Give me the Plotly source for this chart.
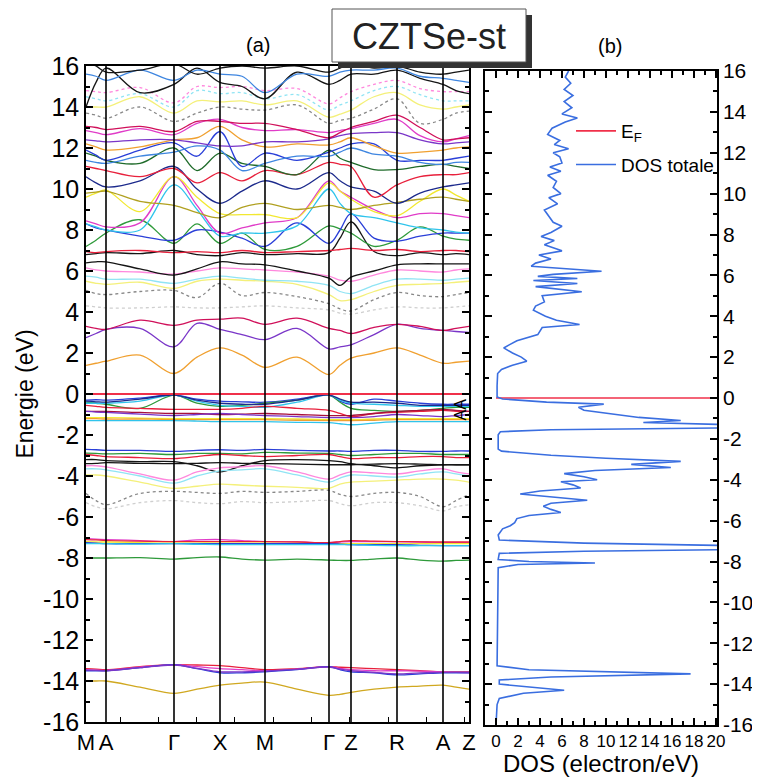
import plotly.graph_objects as go

# ---------------- data ----------------
# k-path sample positions (path length units) and high-symmetry points
K = [0, 10, 20, 54, 88, 111, 134, 156, 179, 211, 243, 254, 265, 288, 311, 334, 357, 370, 383]
K_NODES = [0, 20, 88, 134, 179, 243, 265, 311, 357, 383]
K_LABELS = ["M", "A", "Γ", "X", "M", "Γ", "Z", "R", "A", "Z"]
E_TICKS = [-16, -14, -12, -10, -8, -6, -4, -2, 0, 2, 4, 6, 8, 10, 12, 14, 16]
E_TICK_TEXT = ["-16", "-14", "-12", "-10", "-8", "-6", "-4", "-2", "0", "2", "4", "6", "8", "10", "12", "14", "16"]

# deep bands
band_s1 = [-14.0, -14.0, -14.0, -14.3, -14.6, -14.4, -14.2, -14.1, -14.05, -14.4, -14.7, -14.65, -14.55, -14.4, -14.3, -14.25, -14.2, -14.3, -14.4]
band_s2 = [-13.4, -13.42, -13.45, -13.3, -13.2, -13.22, -13.25, -13.35, -13.45, -13.4, -13.3, -13.33, -13.35, -13.4, -13.45, -13.5, -13.55, -13.55, -13.55]
band_s3 = [-13.45, -13.47, -13.48, -13.33, -13.2, -13.3, -13.4, -13.45, -13.5, -13.42, -13.3, -13.38, -13.45, -13.5, -13.5, -13.52, -13.55, -13.58, -13.6]
band_s4 = [-13.5, -13.5, -13.5, -13.35, -13.2, -13.4, -13.6, -13.6, -13.55, -13.45, -13.3, -13.45, -13.55, -13.6, -13.7, -13.65, -13.6, -13.6, -13.6]
band_s5 = [-13.47, -13.48, -13.5, -13.35, -13.22, -13.38, -13.55, -13.55, -13.52, -13.43, -13.32, -13.42, -13.5, -13.58, -13.65, -13.6, -13.58, -13.57, -13.57]
band_d1 = [-8.0, -8.0, -8.0, -7.98, -8.05, -7.98, -7.95, -8.05, -8.1, -8.05, -8.1, -8.12, -8.12, -8.05, -8.0, -8.1, -8.15, -8.12, -8.1]
band_d2 = [-7.05, -7.08, -7.1, -7.15, -7.2, -7.12, -7.1, -7.15, -7.2, -7.22, -7.25, -7.22, -7.2, -7.2, -7.2, -7.22, -7.25, -7.25, -7.25]
band_d3 = [-7.1, -7.12, -7.15, -7.18, -7.2, -7.2, -7.2, -7.2, -7.2, -7.22, -7.25, -7.2, -7.15, -7.18, -7.2, -7.21, -7.22, -7.22, -7.22]
band_d4 = [-7.2, -7.22, -7.22, -7.25, -7.28, -7.27, -7.27, -7.28, -7.28, -7.29, -7.3, -7.3, -7.3, -7.3, -7.3, -7.3, -7.3, -7.3, -7.3]
band_d5 = [-7.25, -7.27, -7.3, -7.3, -7.3, -7.3, -7.3, -7.3, -7.3, -7.3, -7.3, -7.32, -7.35, -7.35, -7.35, -7.38, -7.4, -7.4, -7.4]
band_d6 = [-7.3, -7.3, -7.3, -7.32, -7.3, -7.33, -7.35, -7.35, -7.35, -7.35, -7.35, -7.35, -7.35, -7.38, -7.4, -7.4, -7.4, -7.4, -7.4]

# valence bands (-6 .. -2.5)
band_v1 = [-2.7, -2.72, -2.75, -2.75, -2.8, -2.75, -2.72, -2.75, -2.7, -2.75, -2.78, -2.78, -2.8, -2.75, -2.75, -2.8, -2.8, -2.78, -2.78]
band_v2 = [-2.88, -2.9, -2.92, -2.9, -2.95, -2.9, -2.9, -2.92, -2.85, -2.88, -2.9, -2.95, -3.0, -2.95, -2.9, -2.9, -2.95, -2.95, -2.95]
band_v3 = [-2.95, -3.0, -3.05, -3.1, -3.15, -3.05, -2.95, -3.0, -3.05, -3.0, -2.95, -3.05, -3.15, -3.1, -3.1, -3.05, -3.05, -3.1, -3.1]
band_v4 = [-3.2, -3.2, -3.25, -3.3, -3.3, -3.5, -3.8, -3.5, -3.25, -3.2, -3.25, -3.3, -3.4, -3.5, -3.6, -3.5, -3.45, -3.45, -3.45]
band_v5 = [-3.4, -3.38, -3.35, -3.38, -3.4, -3.38, -3.35, -3.38, -3.4, -3.42, -3.45, -3.45, -3.45, -3.42, -3.4, -3.42, -3.45, -3.45, -3.45]
band_v6 = [-3.5, -3.5, -3.55, -3.9, -4.2, -3.8, -3.6, -3.55, -3.5, -3.8, -4.15, -3.95, -3.8, -3.85, -3.9, -3.75, -3.65, -3.8, -3.9]
band_v7 = [-3.65, -3.65, -3.7, -4.0, -4.35, -4.0, -3.75, -3.7, -3.65, -3.95, -4.3, -4.1, -3.95, -4.0, -4.05, -3.9, -3.8, -3.9, -4.0]
band_v8 = [-3.95, -3.95, -4.0, -4.3, -4.6, -4.5, -4.4, -4.45, -4.5, -4.55, -4.6, -4.4, -4.3, -4.25, -4.2, -4.15, -4.15, -4.2, -4.3]
band_v9 = [-4.85, -5.2, -5.4, -4.85, -4.75, -4.8, -4.85, -4.75, -4.8, -4.75, -4.7, -4.9, -5.0, -4.85, -4.8, -5.0, -5.5, -5.2, -4.9]
band_v10 = [-5.3, -5.5, -5.6, -5.3, -5.2, -5.3, -5.35, -5.25, -5.3, -5.25, -5.2, -5.35, -5.45, -5.3, -5.3, -5.45, -5.7, -5.5, -5.4]

# top of valence band (-1.5 .. 0)
band_t1 = [-0.3, -0.28, -0.3, -0.2, -0.05, -0.25, -0.35, -0.38, -0.4, -0.25, -0.05, -0.35, -0.5, -0.25, -0.35, -0.45, -0.5, -0.5, -0.5]
band_t2 = [-0.4, -0.45, -0.5, -0.7, -0.05, -0.45, -0.6, -0.55, -0.45, -0.3, -0.05, -0.4, -0.7, -0.8, -0.85, -0.8, -0.7, -0.65, -0.65]
band_t3 = [-0.45, -0.45, -0.45, -0.35, -0.05, -0.35, -0.55, -0.6, -0.65, -0.4, -0.05, -0.3, -0.45, -0.5, -0.55, -0.6, -0.6, -0.6, -0.6]
band_t4 = [-0.35, -0.38, -0.4, -0.25, -0.05, -0.3, -0.45, -0.5, -0.5, -0.3, -0.05, -0.25, -0.4, -0.4, -0.45, -0.55, -0.55, -0.55, -0.55]
band_t5 = [-0.55, -0.6, -0.65, -0.7, -0.75, -0.75, -0.75, -0.7, -0.6, -0.7, -0.8, -0.95, -1.1, -0.95, -0.9, -0.85, -0.8, -0.85, -0.85]
band_t6 = [-0.85, -0.85, -0.85, -0.9, -0.95, -0.95, -1.0, -0.98, -0.95, -1.0, -1.05, -1.05, -1.05, -0.95, -0.85, -0.8, -0.75, -0.8, -0.85]
band_t7 = [-0.85, -0.88, -0.9, -0.98, -1.05, -1.0, -0.95, -1.0, -1.05, -1.1, -1.15, -1.15, -1.15, -1.1, -1.0, -1.05, -1.1, -1.05, -1.0]
band_t8 = [-1.15, -1.15, -1.15, -1.18, -1.2, -1.2, -1.2, -1.2, -1.2, -1.22, -1.25, -1.25, -1.25, -1.22, -1.2, -1.2, -1.2, -1.2, -1.2]
band_t9 = [-1.2, -1.2, -1.22, -1.22, -1.25, -1.25, -1.25, -1.25, -1.25, -1.28, -1.3, -1.3, -1.3, -1.28, -1.25, -1.25, -1.25, -1.25, -1.25]
band_t10 = [-1.3, -1.3, -1.3, -1.3, -1.3, -1.32, -1.35, -1.35, -1.35, -1.38, -1.4, -1.45, -1.5, -1.42, -1.35, -1.35, -1.35, -1.35, -1.35]

# conduction bands (0 .. 7)
band_c1 = [1.4, 1.5, 1.6, 1.9, 1.0, 1.8, 2.25, 1.9, 1.3, 1.8, 0.95, 1.4, 1.75, 2.0, 2.25, 1.9, 1.5, 1.55, 1.6]
band_c2 = [2.75, 2.95, 3.15, 3.2, 2.3, 3.45, 3.15, 2.9, 2.65, 3.2, 2.2, 2.3, 2.4, 2.9, 3.4, 3.2, 3.1, 3.05, 3.0]
band_c3 = [3.3, 3.2, 3.15, 3.6, 3.35, 3.6, 3.65, 3.7, 3.4, 3.7, 3.2, 3.1, 2.95, 3.25, 3.4, 3.3, 3.1, 3.2, 3.3]
band_c4 = [4.3, 4.25, 4.2, 4.2, 4.25, 4.2, 4.2, 4.25, 4.3, 4.2, 4.1, 3.95, 3.9, 4.1, 4.25, 4.2, 4.2, 4.25, 4.3]
band_c5 = [5.05, 4.9, 4.85, 5.0, 5.05, 4.7, 5.4, 4.8, 4.95, 4.75, 4.4, 4.15, 4.05, 4.6, 4.95, 4.8, 4.75, 4.85, 4.95]
band_c6 = [5.5, 5.4, 5.35, 5.45, 5.15, 5.5, 5.6, 5.55, 5.5, 5.35, 4.85, 4.55, 4.6, 5.0, 5.3, 5.35, 5.4, 5.45, 5.5]
band_c7 = [5.75, 5.7, 5.6, 5.6, 5.4, 5.6, 5.75, 5.65, 5.55, 5.5, 5.3, 5.0, 4.9, 5.3, 5.6, 5.6, 5.55, 5.6, 5.65]
band_c8 = [6.15, 6.05, 6.0, 5.95, 5.85, 6.0, 6.15, 6.1, 6.05, 5.95, 5.75, 5.55, 5.5, 5.8, 6.05, 6.0, 5.95, 6.05, 6.1]
band_c9 = [6.4, 6.45, 6.45, 6.1, 5.8, 6.1, 6.45, 6.35, 6.3, 6.0, 5.65, 5.3, 5.7, 6.0, 6.3, 6.35, 6.35, 6.35, 6.35]
band_c10 = [6.8, 6.85, 6.9, 6.85, 7.0, 6.8, 6.75, 6.9, 6.8, 6.85, 6.9, 7.6, 8.4, 6.95, 6.75, 6.9, 6.8, 6.85, 6.8]
band_c11 = [6.95, 6.9, 6.95, 7.0, 6.9, 6.95, 6.9, 7.0, 6.9, 6.95, 7.0, 7.05, 7.1, 7.0, 7.05, 6.95, 7.0, 7.0, 6.95]

# upper conduction bands (7 .. 16)
band_u1 = [7.2, 7.5, 7.85, 8.5, 7.35, 8.3, 7.35, 7.85, 7.05, 7.2, 8.2, 8.05, 7.85, 7.2, 7.5, 8.15, 7.7, 7.55, 7.5]
band_u2 = [8.3, 8.1, 8.0, 7.7, 7.5, 8.0, 7.9, 7.6, 7.2, 8.35, 7.35, 8.0, 8.8, 7.6, 7.45, 7.7, 7.85, 7.85, 7.85]
band_u3 = [8.3, 8.15, 8.0, 8.0, 10.2, 9.0, 7.7, 7.85, 7.85, 8.2, 10.0, 9.3, 8.8, 8.6, 8.35, 8.1, 8.0, 7.9, 7.85]
band_u4 = [8.45, 8.3, 8.15, 8.35, 10.6, 9.2, 7.85, 8.1, 8.35, 8.6, 10.4, 9.9, 9.6, 9.0, 8.6, 8.8, 8.8, 8.7, 8.6]
band_u5 = [9.6, 9.8, 9.95, 8.9, 10.6, 9.6, 8.8, 8.75, 8.75, 8.6, 10.3, 9.9, 9.5, 8.9, 8.7, 9.4, 10.0, 9.7, 9.4]
band_u6 = [9.8, 9.85, 9.9, 9.4, 9.2, 8.85, 8.6, 9.1, 9.3, 9.0, 9.2, 9.1, 9.0, 9.2, 9.35, 9.5, 9.6, 9.5, 9.4]
band_u7 = [10.6, 10.3, 10.1, 10.4, 11.1, 10.0, 9.3, 9.9, 10.4, 10.0, 10.8, 10.4, 10.1, 9.9, 9.3, 9.8, 10.1, 10.2, 10.3]
band_u8 = [11.1, 11.0, 10.9, 10.6, 11.0, 10.3, 10.8, 10.4, 10.9, 10.7, 11.3, 11.2, 11.1, 9.6, 10.2, 10.6, 10.7, 10.7, 10.8]
band_u9 = [11.75, 11.6, 11.4, 11.25, 12.0, 10.9, 11.75, 11.25, 11.1, 10.7, 11.9, 11.5, 11.3, 10.95, 10.95, 11.1, 11.2, 11.1, 11.0]
band_u10 = [11.9, 11.65, 11.4, 11.9, 12.25, 11.6, 12.8, 11.1, 11.75, 11.4, 11.8, 12.0, 12.2, 12.2, 11.4, 11.4, 11.4, 11.5, 11.6]
band_u11 = [11.4, 11.3, 11.25, 11.6, 11.8, 12.1, 11.9, 10.9, 11.25, 11.6, 11.6, 11.8, 12.0, 11.7, 11.6, 11.3, 11.2, 11.3, 11.3]
band_u12 = [12.2, 12.05, 11.9, 12.05, 12.4, 12.5, 13.05, 12.4, 12.05, 12.2, 12.15, 12.3, 12.5, 12.1, 11.75, 11.8, 11.9, 12.0, 12.05]
band_u13 = [12.4, 12.35, 12.3, 12.4, 12.4, 12.25, 12.1, 12.1, 12.3, 12.3, 12.45, 12.6, 12.7, 12.75, 12.75, 12.4, 12.2, 12.25, 12.3]
band_u14 = [12.85, 12.75, 12.65, 12.95, 12.65, 13.2, 13.4, 13.0, 12.85, 12.9, 12.75, 12.85, 12.95, 13.2, 13.4, 12.6, 12.3, 12.45, 12.6]
band_u15 = [13.05, 13.0, 12.9, 13.05, 12.8, 13.3, 13.3, 13.2, 13.2, 12.9, 12.5, 12.75, 13.0, 13.3, 13.6, 13.0, 12.4, 12.45, 12.5]
band_u16 = [13.7, 13.6, 13.45, 14.0, 13.3, 13.7, 14.0, 13.9, 13.85, 14.1, 13.2, 13.35, 13.45, 13.9, 14.4, 13.2, 13.4, 13.7, 13.8]
band_u17 = [14.0, 14.0, 14.0, 14.5, 13.7, 14.3, 14.25, 14.3, 14.1, 14.3, 13.5, 13.65, 13.85, 14.5, 14.7, 14.1, 13.9, 14.0, 14.1]
band_u18 = [14.5, 14.4, 14.3, 14.65, 14.0, 14.8, 14.65, 14.7, 14.4, 14.6, 13.85, 14.1, 14.3, 14.8, 15.0, 14.6, 14.3, 14.3, 14.3]
band_u19 = [14.8, 14.75, 14.7, 14.95, 14.2, 15.0, 14.95, 15.0, 14.8, 14.9, 14.15, 14.45, 14.75, 15.1, 15.3, 14.9, 14.75, 14.75, 14.75]
band_u20 = [14.0, 15.2, 15.9, 14.7, 15.1, 15.9, 15.2, 15.0, 14.4, 15.7, 15.1, 15.3, 15.6, 15.6, 15.8, 15.4, 15.1, 14.8, 14.65]
band_u21 = [15.6, 15.5, 15.3, 15.8, 15.3, 15.8, 15.6, 15.5, 14.7, 15.6, 15.5, 15.7, 15.8, 15.8, 15.9, 15.5, 15.4, 15.3, 15.2]
band_u22 = [16.2, 16.0, 15.7, 15.8, 16.1, 15.6, 15.9, 16.0, 15.9, 16.0, 15.7, 15.9, 16.1, 15.9, 16.0, 15.7, 15.6, 15.7, 15.8]

# total DOS (energy, states/eV)
DOS_E = [16.0, 15.7, 15.4, 15.1, 14.8, 14.5, 14.2, 13.9, 13.7, 13.5, 13.2, 12.9, 12.6, 12.4, 12.2, 12.0, 11.8, 11.5, 11.3, 11.1,
         10.9, 10.6, 10.3, 10.0, 9.8, 9.5, 9.2, 8.9, 8.6, 8.4, 8.1, 7.9, 7.7, 7.5, 7.2, 7.0, 6.8, 6.6, 6.45, 6.2,
         6.05, 5.95, 5.85, 5.75, 5.6, 5.45, 5.2, 5.0, 4.7, 4.5, 4.3, 4.0, 3.8, 3.6, 3.45, 3.1, 2.8, 2.6, 2.45, 2.2,
         2.0, 1.8, 1.6, 1.4, 1.2, 0.6, 0.05, -0.05, -0.2, -0.3, -0.45, -0.6, -0.8, -0.95, -1.1, -1.2, -1.3, -1.45, -1.55, -1.65,
         -1.8, -2.5, -2.6, -2.8, -2.95, -3.1, -3.25, -3.4, -3.55, -3.7, -3.85, -4.0, -4.1, -4.25, -4.4, -4.55, -4.7, -4.85, -5.0, -5.15,
         -5.3, -5.45, -5.6, -5.75, -5.9, -6.1, -6.25, -6.4, -6.7, -6.95, -7.1, -7.25, -7.4, -7.5, -7.6, -7.9, -8.0, -8.07, -8.15, -8.3,
         -13.1, -13.3, -13.5, -13.65, -13.8, -14.0, -14.15, -14.3, -14.45, -14.7, -15.0, -16.0]
DOS_V = [6.6, 6.3, 6.8, 6.2, 7.0, 6.2, 6.9, 6.0, 7.4, 6.3, 5.1, 4.7, 5.8, 5.3, 6.6, 5.2, 5.8, 6.0, 4.9, 5.9,
         4.7, 5.5, 5.2, 5.9, 4.8, 5.6, 4.4, 4.8, 5.2, 6.0, 5.0, 4.1, 5.3, 4.4, 6.0, 3.9, 5.0, 3.6, 3.2, 9.6,
         5.2, 3.8, 7.4, 3.4, 7.4, 3.6, 7.8, 4.2, 4.4, 3.6, 3.4, 4.5, 5.5, 7.6, 4.2, 3.8, 1.9, 1.2, 0.7, 1.5,
         2.3, 2.8, 1.5, 0.5, 0.15, 0.1, 0.1, 0.6, 4.6, 9.8, 7.5, 8.0, 11.0, 13.0, 16.8, 13.4, 21.0, 23.0, 5.0, 0.4,
         0.2, 0.2, 0.5, 5.0, 10.0, 16.8, 12.3, 15.9, 9.0, 6.2, 8.0, 9.2, 5.9, 7.0, 7.7, 4.0, 2.2, 5.0, 8.3, 5.0,
         4.3, 5.0, 5.9, 3.0, 1.9, 1.7, 1.3, 0.6, 0.2, 0.3, 8.0, 24.0, 24.0, 8.0, 0.3, 0.2, 3.0, 9.0, 2.0, 0.2,
         0.1, 3.0, 17.7, 5.0, 0.3, 0.3, 3.0, 6.2, 2.5, 0.3, 0.1, 0.0]

FERMI_E = [0.0, 0.0]

# ---------------- styles ----------------
BLACK = "#151515"; RED = "#e8203c"; CRIMSON = "#d0105a"; GREEN = "#2e9a3a"; DKGREEN = "#1f6b2a"
BLUE = "#2a3fd8"; NAVY = "#1c2a8c"; CYAN = "#30c4ec"; MAGENTA = "#e03cc8"; PINK = "#ff88dd"
YELLOW = "#f2e830"; OLIVE = "#b0a020"; ORANGE = "#f0a030"; PURPLE = "#7a36c8"; GRAY = "#888888"
LGRAY = "#cfcfcf"; LCYAN = "#90e4f4"; LYELLOW = "#f4f07a"; ROYAL = "#3f86e0"; WINE = "#a8103c"

BANDS = [
    (band_s1, "#d0a820", "solid"), (band_s2, RED, "solid"), (band_s3, MAGENTA, "solid"),
    (band_s4, BLUE, "solid"), (band_s5, PURPLE, "solid"),
    (band_d1, GREEN, "solid"), (band_d2, MAGENTA, "solid"), (band_d3, RED, "solid"),
    (band_d4, YELLOW, "solid"), (band_d5, BLUE, "solid"), (band_d6, CYAN, "solid"),
    (band_v1, BLUE, "solid"), (band_v2, GREEN, "solid"), (band_v3, RED, "solid"),
    (band_v4, BLACK, "solid"), (band_v5, BLACK, "solid"), (band_v6, PINK, "solid"),
    (band_v7, LCYAN, "solid"), (band_v8, LYELLOW, "solid"), (band_v9, GRAY, "dot"),
    (band_v10, LGRAY, "dot"),
    (band_t1, BLUE, "solid"), (band_t2, GREEN, "solid"), (band_t3, CYAN, "solid"),
    (band_t4, NAVY, "solid"), (band_t5, RED, "solid"), (band_t6, WINE, "solid"),
    (band_t7, PURPLE, "solid"), (band_t8, YELLOW, "solid"), (band_t9, ORANGE, "solid"),
    (band_t10, CYAN, "solid"),
    (band_c1, ORANGE, "solid"), (band_c2, PURPLE, "solid"), (band_c3, CRIMSON, "solid"),
    (band_c4, LGRAY, "dot"), (band_c5, GRAY, "dot"), (band_c6, LYELLOW, "solid"),
    (band_c7, LCYAN, "solid"), (band_c8, PINK, "solid"), (band_c9, BLACK, "solid"),
    (band_c10, BLACK, "solid"), (band_c11, RED, "solid"),
    (band_u1, GREEN, "solid"), (band_u2, BLUE, "solid"), (band_u3, CYAN, "solid"),
    (band_u4, MAGENTA, "solid"), (band_u5, YELLOW, "solid"), (band_u6, OLIVE, "solid"),
    (band_u7, NAVY, "solid"), (band_u8, RED, "solid"), (band_u9, DKGREEN, "solid"),
    (band_u10, BLUE, "solid"), (band_u11, ROYAL, "solid"), (band_u12, ORANGE, "solid"),
    (band_u13, PURPLE, "solid"), (band_u14, MAGENTA, "solid"), (band_u15, CRIMSON, "solid"),
    (band_u16, GRAY, "dot"), (band_u17, LYELLOW, "solid"), (band_u18, LCYAN, "dot"),
    (band_u19, PINK, "dot"), (band_u20, BLACK, "solid"), (band_u21, ROYAL, "solid"),
    (band_u22, BLACK, "solid"),
]

# page has an 8 px body margin: the figure is placed at (8, 8)
OFF = 8
W, H = 760 - OFF, 777 - OFF
FONT = "Liberation Sans, Arial, sans-serif"

def px(x):
    return (x - OFF) / W

def py(y):
    return 1 - (y - OFF) / H

fig = go.Figure()

for vals, col, dash in BANDS:
    fig.add_trace(go.Scatter(x=K, y=vals, mode="lines", xaxis="x", yaxis="y",
                             line=dict(color=col, width=1.3, dash=dash, shape="spline", smoothing=1.0),
                             showlegend=False, hoverinfo="skip"))

# Fermi level in panel (a)
fig.add_trace(go.Scatter(x=[K[0], K[-1]], y=FERMI_E, mode="lines", xaxis="x", yaxis="y",
                         line=dict(color="#f0304a", width=1.8), showlegend=False))

# panel (b)
fig.add_trace(go.Scatter(x=[0, 20.1], y=FERMI_E, mode="lines", xaxis="x2", yaxis="y2",
                         line=dict(color="#f0304a", width=1.6), name="E<sub>F</sub>",
                         legendgroup="a"))
fig.add_trace(go.Scatter(x=DOS_V, y=DOS_E, mode="lines", xaxis="x2", yaxis="y2",
                         line=dict(color="#3a6ee0", width=1.6), name="DOS totale",
                         legendgroup="b"))

# vertical high-symmetry lines
for kx in K_NODES[1:-1]:
    fig.add_shape(type="line", xref="x", yref="y domain", x0=kx, x1=kx, y0=0, y1=1,
                  line=dict(color="black", width=1.6))

# title box with shadow
fig.add_shape(type="rect", xref="paper", yref="paper", x0=px(338), x1=px(532), y0=py(68), y1=py(15),
              fillcolor="#333333", line=dict(width=0), layer="above")
fig.add_shape(type="rect", xref="paper", yref="paper", x0=px(332), x1=px(526), y0=py(62), y1=py(9),
              fillcolor="white", line=dict(color="#555555", width=1), layer="above")

axis_common = dict(showline=True, linecolor="black", linewidth=1.5, showgrid=False, zeroline=False,
                   automargin=False)

fig.update_layout(
    width=W, height=H, margin=dict(l=0, r=0, t=0, b=0, autoexpand=False),
    paper_bgcolor="white", plot_bgcolor="white",
    font=dict(family=FONT, color="black"),
    xaxis=dict(axis_common, domain=[px(86), px(469)], range=[K[0], K[-1]], mirror=True,
               tickmode="array", tickvals=K_NODES, ticktext=K_LABELS, ticks="", tickangle=0,
               tickfont=dict(family=FONT, size=22, color="black"),
               minor=dict(tickmode="linear", tick0=34, dtick=38.3, ticks="inside", ticklen=5,
                          tickcolor="black", tickwidth=1)),
    yaxis=dict(axis_common, domain=[py(722), py(66)], range=[-16, 16], mirror="allticks",
               tickmode="array", tickvals=E_TICKS, ticktext=E_TICK_TEXT, ticks="inside", ticklen=7,
               tickwidth=1.5, tickcolor="black", tickfont=dict(family=FONT, size=25, color="black"),
               minor=dict(tickmode="linear", tick0=-16, dtick=1, ticks="inside", ticklen=4, tickcolor="black"),
               title=dict(text="Energie (eV)", font=dict(family=FONT, size=23, color="black"), standoff=3)),
    xaxis2=dict(axis_common, domain=[px(485), px(717)], range=[-1, 20.1], anchor="y2", mirror="allticks",
                tickmode="linear", tick0=0, dtick=2, ticks="inside", ticklen=7, tickwidth=1.5, tickangle=0,
                tickcolor="black", tickfont=dict(family=FONT, size=17, color="black"),
                minor=dict(dtick=1, tick0=0, ticks="inside", ticklen=4, tickcolor="black"),
                title=dict(text="DOS (electron/eV)", font=dict(family=FONT, size=24, color="black"), standoff=0)),
    yaxis2=dict(axis_common, domain=[py(725), py(71)], range=[-16, 16], anchor="x2", side="right",
                mirror="allticks", tickmode="array", tickvals=E_TICKS, ticktext=E_TICK_TEXT,
                ticks="inside", ticklen=7, tickwidth=1.5, tickcolor="black",
                tickfont=dict(family=FONT, size=21, color="black"),
                minor=dict(tickmode="linear", tick0=-16, dtick=1, ticks="inside", ticklen=4, tickcolor="black")),
    showlegend=True,
    legend=dict(x=px(571), y=py(112), xanchor="left", yanchor="top", bgcolor="rgba(0,0,0,0)",
                font=dict(family=FONT, size=19, color="black"), traceorder="grouped",
                tracegroupgap=6, itemwidth=40),
    annotations=[
        dict(text="CZTSe-st", xref="paper", yref="paper", x=px(429), y=py(36), showarrow=False,
             xanchor="center", yanchor="middle",
             font=dict(family=FONT, size=36, color="#222222")),
        dict(text="(a)", xref="paper", yref="paper", x=px(258), y=py(45), showarrow=False,
             xanchor="center", yanchor="middle",
             font=dict(family=FONT, size=20, color="black")),
        dict(text="(b)", xref="paper", yref="paper", x=px(610), y=py(46), showarrow=False,
             xanchor="center", yanchor="middle",
             font=dict(family=FONT, size=20, color="black")),
        dict(text="AA", xref="x", yref="y", x=374, y=-0.75, showarrow=False, textangle=-90,
             xanchor="center", yanchor="middle",
             font=dict(family=FONT, size=16, color="black")),
    ],
)

fig.write_html("out.html")
